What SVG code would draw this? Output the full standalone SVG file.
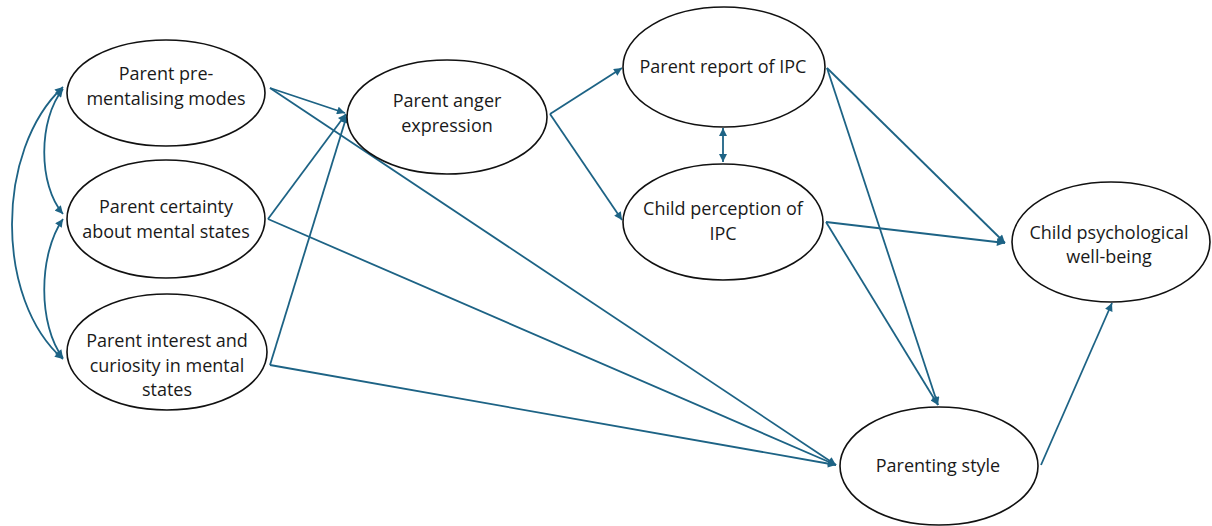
<svg xmlns="http://www.w3.org/2000/svg" width="1212" height="526" viewBox="0 0 1212 526">
<defs>
<marker id="ah" viewBox="0 0 10 10" refX="10" refY="5" markerWidth="9" markerHeight="8" markerUnits="userSpaceOnUse" orient="auto-start-reverse">
<path d="M0,0 L10,5 L0,10 z" fill="#1d6385"/>
</marker>
<style>
.node ellipse{fill:#fff;stroke:#111;stroke-width:1.6}
.node text{font-family:"Open Sans","Noto Sans",sans-serif;font-size:18px;fill:#1a1a1a;text-anchor:middle}
.c path,.c line{fill:none;stroke:#1d6385;stroke-width:1.8}
</style>
</defs>
<rect width="1212" height="526" fill="#fff"/>
<g id="connectors" class="c">
<path d="M63,89 C38,120 38,185 63,214" marker-start="url(#ah)" marker-end="url(#ah)"/>
<path d="M63,219 C38,255 38,325 63,358" marker-start="url(#ah)" marker-end="url(#ah)"/>
<path d="M63,87 C-5,150 -5,300 63,359" marker-start="url(#ah)" marker-end="url(#ah)"/>
<line x1="270" y1="88" x2="345" y2="113" marker-end="url(#ah)"/>
<line x1="270" y1="88" x2="836" y2="465" marker-end="url(#ah)"/>
<line x1="268" y1="219" x2="346" y2="114" marker-end="url(#ah)"/>
<line x1="268" y1="219" x2="836" y2="465" marker-end="url(#ah)"/>
<line x1="270" y1="365" x2="347" y2="115" marker-end="url(#ah)"/>
<line x1="270" y1="365" x2="836" y2="465" marker-end="url(#ah)"/>
<line x1="550" y1="114" x2="622" y2="68" marker-end="url(#ah)"/>
<line x1="550" y1="114" x2="622" y2="220" marker-end="url(#ah)"/>
<line x1="723" y1="128" x2="723" y2="162" marker-start="url(#ah)" marker-end="url(#ah)"/>
<line x1="827" y1="68" x2="1005" y2="243" marker-end="url(#ah)"/>
<line x1="827" y1="68" x2="938" y2="405" marker-end="url(#ah)"/>
<line x1="826" y1="222" x2="1005" y2="243" marker-end="url(#ah)"/>
<line x1="826" y1="222" x2="938" y2="405" marker-end="url(#ah)"/>
<line x1="1041" y1="465" x2="1112" y2="303" marker-end="url(#ah)"/>
</g>
<g id="n1" class="node"><ellipse cx="166" cy="93" rx="99" ry="53"/><text x="166" y="80">Parent pre-</text><text x="166" y="105">mentalising modes</text></g>
<g id="n2" class="node"><ellipse cx="166" cy="219" rx="99" ry="59"/><text x="166" y="213">Parent certainty</text><text x="166" y="238">about mental states</text></g>
<g id="n3" class="node"><ellipse cx="167" cy="352" rx="100" ry="58"/><text x="167" y="347">Parent interest and</text><text x="167" y="372">curiosity in mental</text><text x="167" y="396">states</text></g>
<g id="n4" class="node"><ellipse cx="447" cy="117" rx="100" ry="57"/><text x="447" y="107">Parent anger</text><text x="447" y="132">expression</text></g>
<g id="n5" class="node"><ellipse cx="724" cy="67" rx="101" ry="60"/><text x="723" y="73">Parent report of IPC</text></g>
<g id="n6" class="node"><ellipse cx="723" cy="222" rx="100" ry="58"/><text x="723" y="215">Child perception of</text><text x="723" y="240">IPC</text></g>
<g id="n7" class="node"><ellipse cx="1111" cy="242" rx="99" ry="60"/><text x="1109" y="239">Child psychological</text><text x="1109" y="263">well-being</text></g>
<g id="n8" class="node"><ellipse cx="939" cy="466" rx="99" ry="59"/><text x="938" y="472">Parenting style</text></g>
</svg>
